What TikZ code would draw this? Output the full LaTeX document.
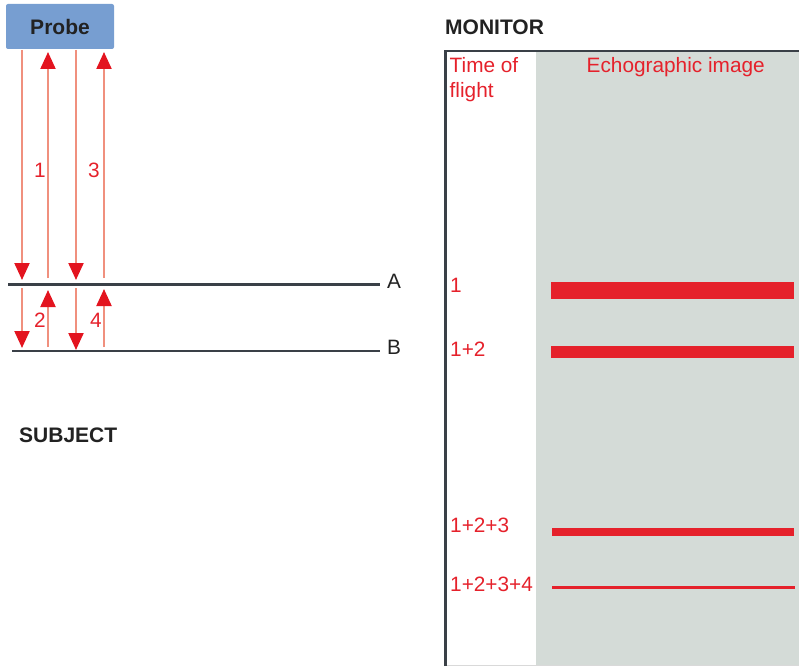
\documentclass[tikz,border=0pt]{standalone}
\usepackage{fontspec}
\setmainfont{Liberation Sans}
\usetikzlibrary{arrows.meta}
\definecolor{probeblue}{HTML}{779ED1}
\definecolor{txtred}{HTML}{E5212B}
\definecolor{arrline}{HTML}{F0907E}
\definecolor{arrhead}{HTML}{E3141F}
\definecolor{layer}{HTML}{3A4047}
\definecolor{screen}{HTML}{D4DBD7}
\definecolor{darktxt}{HTML}{222222}
\tikzset{
  big/.style={font=\fontsize{20.8}{25}\selectfont},
  lbl/.style={big, inner sep=0pt, anchor=base west},
  redlbl/.style={lbl, text=txtred},
  title/.style={lbl, text=darktxt, font=\fontsize{21}{25}\selectfont\bfseries},
  num/.style={big, text=txtred, inner sep=0pt},
  wave/.style={draw=arrline, line width=2.2pt, -{Triangle[length=17pt,width=15pt,color=arrhead,fill=arrhead]}},
  layerline/.style={draw=layer, line width=2.4pt},
  echo/.style={fill=txtred, draw=none},
}
\begin{document}
\begin{tikzpicture}[x=1pt,y=-1pt]
\useasboundingbox (0,0) rectangle (799,666);
% Probe
\node[draw=none, fill=probeblue, rounded corners=2pt, minimum width=108pt, minimum height=45pt, inner sep=0pt, font=\fontsize{21}{25}\selectfont\bfseries, text=darktxt] (probe) at (60,26.5) {Probe};
% interfaces
\coordinate (A0) at (8,284.5);
\coordinate (A1) at (380,284.5);
\coordinate (B0) at (12,351);
\coordinate (B1) at (380,351);
\draw[layerline] (A0) -- (A1);
\draw[layerline] (B0) -- (B1);
\node[lbl, text=darktxt] (la) at (387,288) {A};
\node[lbl, text=darktxt] (lb) at (387,354) {B};
% arrows probe <-> A
\coordinate (p1) at (22,50);  \coordinate (a1) at (22,280);
\coordinate (a2) at (48,278); \coordinate (p2) at (48,52);
\coordinate (p3) at (76,50);  \coordinate (a3) at (76,280);
\coordinate (a4) at (104,278);\coordinate (p4) at (104,52);
\draw[wave] (p1) -- (a1);
\draw[wave] (a2) -- (p2);
\draw[wave] (p3) -- (a3);
\draw[wave] (a4) -- (p4);
% arrows A <-> B
\coordinate (c1) at (22,288);  \coordinate (b1) at (22,348);
\coordinate (b2) at (48,347);  \coordinate (c2) at (48,290);
\coordinate (c3) at (76,288);  \coordinate (b3) at (76,350);
\coordinate (b4) at (104,347); \coordinate (c4) at (104,289);
\draw[wave] (c1) -- (b1);
\draw[wave] (b2) -- (c2);
\draw[wave] (c3) -- (b3);
\draw[wave] (b4) -- (c4);
\node[num] (n1) at (40,170) {1};
\node[num] (n3) at (94,170) {3};
\node[num] (n2) at (40,320) {2};
\node[num] (n4) at (96,320) {4};
\node[title] (subj) at (19,442.5) {SUBJECT};
% Monitor
\node[title] (mon) at (445,35) {MONITOR};
\fill[screen] (536,52) rectangle (799,664.5);
\draw[draw=black!15, line width=1.2pt] (446,665.3) -- (799,665.3);
\draw[draw=layer, line width=2.4pt] (445.5,666) -- (445.5,51) -- (799,51);
\node[redlbl] (tof1) at (449.5,73) {Time of};
\node[redlbl] (tof2) at (449.5,97.5) {flight};
\node[redlbl] (echo) at (586.5,73) {Echographic image};
\node[redlbl] (t1) at (450,292) {1};
\node[redlbl] (t2) at (450,356) {1+2};
\node[redlbl] (t3) at (450,532.5) {1+2+3};
\node[redlbl] (t4) at (450,591.5) {1+2+3+4};
\fill[echo] (551,281.5) rectangle (793.5,299);
\fill[echo] (551,346) rectangle (793.5,357.7);
\fill[echo] (551.5,527.7) rectangle (794,535.7);
\fill[echo] (552,586) rectangle (795,589.3);
\end{tikzpicture}
\end{document}
